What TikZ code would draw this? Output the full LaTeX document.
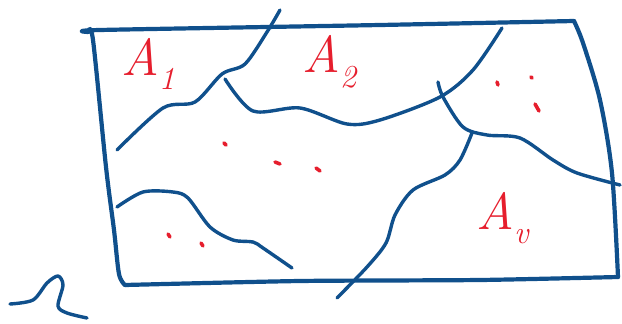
\documentclass[tikz,border=0pt]{standalone}
\usepackage{fontspec}
\usepackage{tikz}
\usetikzlibrary{positioning}
\definecolor{inkblue}{RGB}{16, 80, 140}
\definecolor{inkred}{RGB}{230, 30, 45}
\newcommand{\areaname}[1]{\textit{A}\raisebox{-0.28em}{\fontsize{32}{32}\selectfont\textit{#1}}}

\begin{document}
\begin{tikzpicture}[
    x=1pt, y=-1pt,
    frameline/.style={draw=inkblue, line width=4.2pt, line cap=round, line join=round},
    regionline/.style={draw=inkblue, line width=3.4pt, line cap=round, line join=round},
    inkdot/.style={draw=inkred, line width=3.6pt, line cap=round},
    arealabel/.style={text=inkred, inner sep=0pt, font=\fontsize{52}{52}\selectfont},
]
    \useasboundingbox (0,0) rectangle (622,324);

    % the outer domain
    \draw[frameline] plot[smooth, tension=0.4] coordinates {(88,32) (100,30) (380,25) (574,21)};
    \draw[frameline] plot[smooth, tension=0.5] coordinates {(574,21) (583,43) (600,100) (612,173) (618,277)};
    \draw[frameline] plot[smooth, tension=0.4] coordinates {(618,277) (480,280) (300,281) (125,285)};
    \draw[frameline] plot[smooth, tension=0.5] coordinates {(125,285) (119,274) (114,230) (106,167) (93,40) (88,32)};

    % boundaries between the parts
    \draw[regionline] plot[smooth] coordinates {(117,150) (163,108) (195,102) (222,74) (245,64) (267,32) (280,10)};
    \draw[regionline] plot[smooth] coordinates {(225,79) (253,111) (300,108) (347,124) (380,120) (440,97) (473,70) (502,28)};
    \draw[regionline] plot[smooth] coordinates {(438,82) (443,97) (463,127) (487,135) (520,138) (553,160) (577,173) (620,185)};
    \draw[regionline] plot[smooth] coordinates {(472,133) (460,160) (445,175) (413,190) (395,215) (386,243) (367,267) (337,298)};
    \draw[regionline] plot[smooth] coordinates {(117,207) (143,192) (173,192) (188,198) (210,227) (233,240) (253,242) (263,248) (292,268)};

    % squiggle outside
    \draw[regionline] plot[smooth] coordinates {(10,304) (33,300) (47,283) (58,276) (63,285) (58,306) (67,313) (87,318)};

    % labels
    \node[arealabel] (a1) at (148,64) {\areaname{1}};
    \node[arealabel] (a2) at (330,62) {\areaname{2}};
    \node[arealabel] (av) at (503,218) {\areaname{v}};

    % red specks
    \draw[inkdot] (224,143) -- (226,145);
    \draw[inkdot] (275,162) -- (280,164);
    \draw[inkdot] (316,168) -- (320,171);
    \draw[inkdot] (168,234) -- (170,237);
    \draw[inkdot] (201,243) -- (203,246);
    \draw[inkdot] (497,82) -- (498,85);
    \draw[inkdot] (531,77) -- (532,78);
    \draw[inkdot] (535,104) -- (539,111);
\end{tikzpicture}
\end{document}
